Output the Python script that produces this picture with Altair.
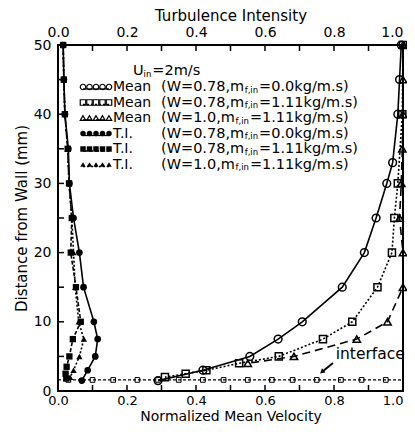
import altair as alt
import pandas as pd

# ---------------- data ----------------
# Normalized mean velocity (bottom axis) vs distance from wall (mm)
mean_circ_y = [50, 45, 40, 33, 30, 25, 20, 15, 10, 7.5, 5, 3, 1.5]
mean_circ_x = [0.995, 0.99, 0.985, 0.97, 0.953, 0.922, 0.888, 0.824, 0.708, 0.638, 0.556, 0.42, 0.29]
mean_sq_y = [50, 40, 30, 25, 20, 15, 10, 7.5, 5, 4, 3, 2.5, 2]
mean_sq_x = [1.0, 0.998, 0.985, 0.975, 0.968, 0.926, 0.853, 0.768, 0.64, 0.525, 0.43, 0.37, 0.31]
mean_tri_y = [50, 45, 40, 35, 30, 25, 20, 15, 10, 7.5, 5, 4]
mean_tri_x = [1.0, 1.0, 1.0, 0.998, 0.995, 0.99, 1.0, 1.0, 0.955, 0.866, 0.684, 0.55]

# Turbulence intensity (top axis) vs distance from wall (mm)
ti_circ_y = [50, 45, 40, 35, 30, 25, 20, 15, 10, 7.5, 5, 3, 1.5]
ti_circ_x = [0.015, 0.017, 0.02, 0.03, 0.033, 0.045, 0.062, 0.074, 0.104, 0.115, 0.108, 0.086, 0.069]
ti_sq_y = [50, 45, 40, 35, 30, 25, 20, 15, 10, 7.5, 5, 3.5, 2.5, 1.8]
ti_sq_x = [0.015, 0.017, 0.02, 0.028, 0.032, 0.04, 0.037, 0.052, 0.066, 0.043, 0.033, 0.025, 0.022, 0.024]
ti_tri_y = [50, 45, 40, 35, 30, 25, 20, 15, 10, 7.5, 5, 3, 2]
ti_tri_x = [0.015, 0.017, 0.02, 0.028, 0.032, 0.04, 0.045, 0.05, 0.06, 0.075, 0.062, 0.045, 0.035]

# interface line
interface_y = [1.6]
interface_x = [0.03, 0.1, 0.16, 0.23, 0.29, 0.35, 0.42, 0.48, 0.55, 0.62, 0.68, 0.75, 0.82, 0.88, 0.95]
arrow_x = [0.797, 0.765]
arrow_y = [4.05, 2.75]
label_interface_pos = [0.805, 5.4]

# axes
x_label_values = [0.0, 0.2, 0.4, 0.6, 0.8, 1.0]
x_tick_values = [0.1, 0.2, 0.3, 0.4, 0.5, 0.6, 0.7, 0.8, 0.9]
y_label_values = [0, 10, 20, 30, 40, 50]
y_tick_values = [5, 10, 15, 20, 25, 30, 35, 40, 45]

legend_rows = [
    ("Mean", "(W=0.78,m", "=0.0kg/m.s)"),
    ("Mean", "(W=0.78,m", "=1.11kg/m.s)"),
    ("Mean", "(W=1.0,m", "=1.11kg/m.s)"),
    ("T.I.", "(W=0.78,m", "=0.0kg/m.s)"),
    ("T.I.", "(W=0.78,m", "=1.11kg/m.s)"),
    ("T.I.", "(W=1.0,m", "=1.11kg/m.s)"),
]

# ---------------- layout / style ----------------
W, H = 345, 346
FONT = "DejaVu Sans"
XS = alt.Scale(domain=[0, 1], nice=False, zero=False)
YS = alt.Scale(domain=[0, 50], nice=False, zero=False)
Y = alt.Y("y:Q", scale=YS,
          axis=alt.Axis(values=y_label_values, title="Distance from Wall (mm)",
                        labelPadding=7, titlePadding=4, labelFlush=False))

def xenc(axis=None):
    return alt.X("x:Q", scale=XS, axis=axis)

last_right = alt.ExprRef(expr="datum.value >= 1 ? 'right' : 'center'")
bottom_axis = alt.Axis(values=x_label_values, format=".1f", orient="bottom",
                       title="Normalized Mean Velocity", labelPadding=3,
                       titlePadding=2, labelFlush=False, labelAlign=last_right,
                       labelFontSize=13, titleFontSize=14)
top_axis = alt.Axis(values=x_label_values, format=".1f", orient="top",
                    title="Turbulence Intensity", labelPadding=6,
                    titlePadding=2, labelFlush=False, labelAlign=last_right)

styles = [
    # shape, filled, dash, size
    ("circle", False, None, 60),
    ("square", False, [2, 2], 50),
    ("triangle-up", False, [8, 5], 55),
    ("circle", True, None, 45),
    ("square", True, [4, 2], 40),
    ("triangle-up", True, [2, 2], 40),
]
series = [
    (mean_circ_x, mean_circ_y),
    (mean_sq_x, mean_sq_y),
    (mean_tri_x, mean_tri_y),
    (ti_circ_x, ti_circ_y),
    (ti_sq_x, ti_sq_y),
    (ti_tri_x, ti_tri_y),
]

layers = []
for i, ((xs, ys), (shape, filled, dash, size)) in enumerate(zip(series, styles)):
    df = pd.DataFrame({"x": xs, "y": ys, "o": list(range(len(xs)))})
    if i == 0:
        ax = bottom_axis
    elif i == 3:
        ax = top_axis
    else:
        ax = None
    lkw = dict(color="black", strokeWidth=1.6)
    if dash:
        lkw["strokeDash"] = dash
    line = alt.Chart(df).mark_line(**lkw).encode(x=xenc(ax), y=Y, order="o:Q")
    pts = alt.Chart(df).mark_point(shape=shape, filled=filled, color="black",
                                   size=size, strokeWidth=1.5, opacity=1).encode(
        x=xenc(None), y=Y)
    layers += [line, pts]

# interface line
idf = pd.DataFrame({"y": interface_y})
layers.append(alt.Chart(idf).mark_rule(color="black", strokeWidth=1.3, strokeDash=[3, 2]).encode(
    y=Y, x=alt.value(0), x2=alt.value(W)))
ipts = pd.DataFrame({"x": interface_x, "y": interface_y * len(interface_x)})
layers.append(alt.Chart(ipts).mark_point(shape="square", filled=False, color="black",
                                         size=22, strokeWidth=1, opacity=1).encode(
    x=xenc(None), y=Y))
# arrow
adf = pd.DataFrame({"x": arrow_x, "y": arrow_y, "o": [0, 1]})
layers.append(alt.Chart(adf).mark_line(color="black", strokeWidth=2).encode(
    x=xenc(None), y=Y, order="o:Q"))
layers.append(alt.Chart(adf.iloc[[1]]).mark_point(shape="triangle-up", filled=True, color="black",
                                                  size=30, angle=230, opacity=1).encode(
    x=xenc(None), y=Y))
tdf = pd.DataFrame({"x": [label_interface_pos[0]], "y": [label_interface_pos[1]], "t": ["interface"]})
layers.append(alt.Chart(tdf).mark_text(align="left", baseline="middle", font=FONT,
                                       fontSize=15.5, color="black").encode(
    x=xenc(None), y=Y, text="t:N"))

# inward ticks
bt = pd.DataFrame({"x": x_tick_values})
layers.append(alt.Chart(bt).mark_rule(color="black", strokeWidth=1.5).encode(
    x=xenc(None), y=alt.value(H), y2=alt.value(H - 6)))
layers.append(alt.Chart(bt).mark_rule(color="black", strokeWidth=1.5).encode(
    x=xenc(None), y=alt.value(0), y2=alt.value(6)))
lt = pd.DataFrame({"y": y_tick_values})
layers.append(alt.Chart(lt).mark_rule(color="black", strokeWidth=1.5).encode(
    y=Y, x=alt.value(0), x2=alt.value(6)))

# ---------------- legend (drawn manually) ----------------
CW = {'(': 0.390, ')': 0.390, 'W': 0.989, '=': 0.838, '0': 0.636, '1': 0.636, '2': 0.636,
      '7': 0.636, '8': 0.636, '.': 0.318, ',': 0.318, 'm': 0.974, 'f': 0.352, 'i': 0.278,
      'n': 0.634, 'k': 0.579, 'g': 0.635, '/': 0.337, 's': 0.521, 'U': 0.732}

def tw(s, fs):
    return sum(CW.get(c, 0.6) for c in s) * fs

one = pd.DataFrame({"a": [0]})
FS = 14.5
SUB = 8.5
SUB_DY = 2.5

def text(s, x, y, fs=FS):
    return alt.Chart(one).mark_text(align="left", baseline="middle", font=FONT,
                                    fontSize=fs, color="black").encode(
        x=alt.value(x), y=alt.value(y), text=alt.value(s))

# U_in row
ux, uy = 75, 26
layers.append(text("U", ux, uy))
layers.append(text("in", ux + tw("U", FS), uy + SUB_DY, SUB))
layers.append(text("=2m/s", ux + tw("U", FS) + tw("in", SUB) + 1, uy))

row_y = [42, 57.5, 73, 88.5, 104, 119.5]
mk_x = [25, 31.5, 38, 44.5, 51]
for (lab, pre, suf), (shape, filled, dash, size), ry in zip(legend_rows, styles, row_y):
    rkw = dict(color="black", strokeWidth=1.3)
    if dash:
        rkw["strokeDash"] = dash
    layers.append(alt.Chart(one).mark_rule(**rkw).encode(
        x=alt.value(mk_x[0]), x2=alt.value(mk_x[-1]), y=alt.value(ry + 2)))
    for mx in mk_x:
        layers.append(alt.Chart(one).mark_point(shape=shape, filled=filled, color="black",
                                                size=30, strokeWidth=1.2, opacity=1).encode(
            x=alt.value(mx), y=alt.value(ry)))
    layers.append(text(lab, 55, ry, 14))
    px = 103
    layers.append(text(pre, px, ry))
    sx = px + tw(pre, FS) + 0.5
    layers.append(text("f,in", sx, ry + SUB_DY, SUB))
    layers.append(text(suf, sx + tw("f,in", SUB) + 1, ry))

chart = alt.layer(*layers).resolve_axis(x="independent").properties(
    width=W, height=H,
    autosize=alt.AutoSizeParams(type="none"),
    padding={"left": 50, "top": 37, "right": 4, "bottom": 33},
).configure_view(stroke="black", strokeWidth=2).configure_axis(
    domain=False, ticks=False, grid=False,
    labelFont=FONT, labelFontSize=14, labelColor="black",
    titleFont=FONT, titleFontSize=15, titleFontWeight="normal", titleColor="black",
)

chart.save("out.html", embed_options={"renderer": "svg", "actions": False})
